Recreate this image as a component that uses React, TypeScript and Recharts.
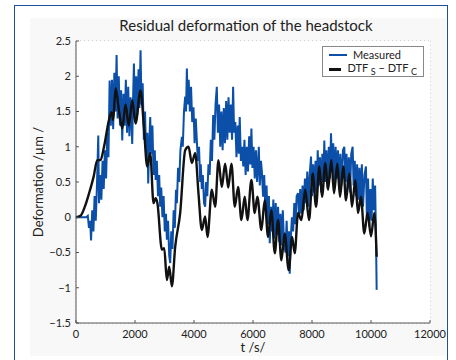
import { LineChart, Line, XAxis, YAxis, CartesianGrid } from "recharts";

// measured deformation [t (s), value (µm)]
const measured: [number, number][] = [
  [0, 0], [350, 0], [400, 0.02], [440, -0.15], [480, -0.05], [510, -0.33], [550, 0.1], [590, -0.2],
  [630, 0.3], [670, -0.05], [710, 0.45], [755, 1.16], [780, 0.2], [820, 0.6], [860, 0.25], [900, 0.8],
  [940, 0.4], [980, 0.95], [1020, 0.55], [1060, 1.2], [1100, 0.85], [1140, 1.94], [1180, 1.3], [1220, 1.95],
  [1260, 1.25], [1300, 2.05], [1340, 1.5], [1376, 2.3], [1410, 1.4], [1450, 2.0], [1490, 1.3], [1530, 1.8],
  [1568, 1.09], [1610, 1.75], [1650, 1.3], [1690, 1.95], [1730, 1.2], [1770, 1.85], [1810, 1.15], [1850, 1.7],
  [1906, 1.04], [1930, 1.6], [1963, 2.18], [2000, 1.4], [2040, 2.0], [2080, 1.45], [2120, 2.1], [2150, 1.55],
  [2188, 2.37], [2220, 1.6], [2260, 1.9], [2300, 1.1], [2340, 1.5], [2380, 0.8], [2420, 1.2], [2448, 0.48],
  [2480, 1.0], [2516, 1.42], [2550, 0.9], [2590, 1.3], [2630, 0.6], [2670, 0.95], [2700, 0.53], [2740, 0.8],
  [2780, 0.3], [2820, 0.6], [2854, 0.15], [2890, 0.42], [2930, 0.0], [2970, 0.3], [3010, -0.2], [3050, 0.05],
  [3081, -0.32], [3120, -0.05], [3160, -0.55], [3193, -0.65], [3230, -0.2], [3270, -0.45], [3310, 0.1], [3350, -0.15],
  [3390, 0.39], [3420, 0.2], [3460, 0.7], [3500, 0.5], [3540, 0.95], [3589, 1.14], [3620, 1.0], [3660, 1.5],
  [3701, 1.71], [3730, 1.5], [3758, 2.11], [3790, 1.6], [3820, 1.95], [3860, 1.5], [3900, 1.85], [3940, 1.35],
  [3983, 1.56], [4020, 1.05], [4060, 1.4], [4096, 1.09], [4130, 0.8], [4170, 1.0], [4210, 0.5], [4230, 0.75],
  [4265, 0.4], [4300, 0.6], [4340, 0.2], [4378, 0.15], [4410, 0.5], [4450, 0.3], [4490, 0.75], [4530, 0.6],
  [4570, 1.1], [4610, 0.8], [4650, 1.45], [4690, 1.1], [4730, 1.6], [4773, 1.85], [4810, 1.2], [4850, 1.6],
  [4890, 1.0], [4930, 1.5], [4970, 0.95], [5010, 1.55], [5050, 1.05], [5090, 1.65], [5130, 1.1], [5170, 1.7],
  [5210, 1.2], [5250, 1.6], [5290, 1.1], [5326, 1.85], [5360, 1.2], [5400, 1.35], [5440, 0.85], [5480, 1.3],
  [5520, 0.9], [5550, 1.42], [5590, 0.8], [5630, 1.0], [5670, 0.72], [5710, 1.1], [5750, 0.6], [5790, 1.0],
  [5830, 0.65], [5870, 1.15], [5910, 0.75], [5946, 1.26], [5980, 0.7], [6020, 1.0], [6060, 0.55], [6100, 0.95],
  [6140, 0.5], [6197, 1.0], [6230, 0.45], [6270, 0.8], [6300, 0.65], [6342, 0.29], [6380, 0.6], [6420, 0.1],
  [6460, 0.45], [6500, -0.1], [6540, 0.3], [6568, -0.37], [6610, 0.15], [6650, -0.2], [6690, 0.25], [6730, -0.3],
  [6770, 0.2], [6810, -0.25], [6850, 0.15], [6890, -0.35], [6930, 0.05], [6970, -0.4], [7010, 0.1], [7050, -0.35],
  [7100, -0.5], [7140, -0.05], [7180, -0.55], [7220, -0.2], [7245, -0.8], [7280, -0.3], [7320, 0.0], [7360, -0.2],
  [7400, 0.2], [7440, -0.1], [7480, 0.3], [7527, 0.34], [7560, 0.0], [7600, 0.4], [7640, 0.05], [7680, 0.45],
  [7720, 0.1], [7760, 0.55], [7800, 0.2], [7840, 0.65], [7880, 0.15], [7920, 0.6], [7967, 0.86], [8000, 0.3],
  [8040, 0.75], [8080, 0.35], [8120, 0.8], [8160, 0.3], [8194, 0.95], [8230, 0.45], [8270, 0.85], [8310, 0.35],
  [8350, 0.9], [8380, 0.5], [8418, 1.09], [8450, 0.5], [8490, 0.95], [8530, 0.4], [8570, 1.0], [8610, 0.55],
  [8644, 1.19], [8680, 0.7], [8720, 1.05], [8760, 0.45], [8800, 1.0], [8840, 0.55], [8880, 0.95], [8920, 0.4],
  [8960, 0.9], [9000, 0.45], [9050, 0.95], [9095, 1.0], [9130, 0.5], [9170, 0.9], [9210, 0.4], [9250, 0.85],
  [9290, 0.35], [9330, 0.9], [9378, 1.0], [9410, 0.45], [9450, 0.8], [9490, 0.3], [9530, 0.75], [9570, 0.25],
  [9610, 0.7], [9650, 0.2], [9690, 0.75], [9730, 0.15], [9780, 0.6], [9829, 0.72], [9860, 0.0], [9900, 0.55],
  [9940, -0.13], [9980, 0.4], [10020, -0.05], [10060, 0.55], [10100, 0.1], [10140, 0.45], [10170, -0.3], [10192, -1.03],
];

// DTF_S - DTF_C model [t (s), value (µm)]
const dtf: [number, number][] = [
  [0, 0], [150, 0.02], [300, 0.15], [450, 0.35], [600, 0.58], [720, 0.81], [830, 0.81], [950, 1.0],
  [1117, 1.38], [1206, 1.49], [1260, 1.38], [1342, 1.83], [1455, 1.52], [1568, 1.26], [1680, 1.6], [1790, 1.3],
  [1906, 1.66], [2019, 1.33], [2188, 1.8], [2302, 1.28], [2414, 0.72], [2516, 0.91], [2628, 0.2], [2700, 0.27],
  [2760, 0.2], [2911, -0.46], [2990, -0.44], [3081, -0.89], [3160, -0.7], [3250, -0.98], [3362, -0.42], [3531, 0.06],
  [3701, 0.95], [3814, 1.0], [3927, 0.77], [4040, 0.91], [4152, 0.34], [4265, -0.18], [4378, 0.01], [4457, -0.28],
  [4604, 0.39], [4717, 0.15], [4829, 0.81], [4943, 0.43], [5055, 0.76], [5160, 0.42], [5269, 0.76], [5383, 0.15],
  [5495, 0.43], [5607, -0.04], [5720, 0.29], [5810, -0.04], [5946, 0.53], [6058, 0.06], [6148, 0.29], [6284, -0.18],
  [6397, 0.24], [6510, -0.28], [6623, 0.1], [6738, -0.51], [6850, -0.04], [6962, -0.61], [7075, -0.23], [7210, -0.75],
  [7324, -0.28], [7414, -0.51], [7527, 0.06], [7640, -0.04], [7770, 0.39], [7900, -0.04], [8024, 0.62], [8137, 0.15],
  [8250, 0.72], [8340, 0.29], [8452, 0.77], [8543, 0.39], [8656, 0.81], [8746, 0.34], [8859, 0.76], [8949, 0.29],
  [9062, 0.72], [9152, 0.24], [9265, 0.62], [9355, 0.15], [9468, 0.53], [9559, 0.06], [9660, 0.29], [9772, -0.23],
  [9886, 0.06], [10000, -0.27], [10112, 0.06], [10192, -0.56],
];

const xTicks = [0, 2000, 4000, 6000, 8000, 10000, 12000];
const yTicks = [-1.5, -1, -0.5, 0, 0.5, 1, 1.5, 2, 2.5];

const measuredData = measured.map(([t, v]) => ({ t, v }));
const dtfData = dtf.map(([t, v]) => ({ t, v }));

const FONT = "Lato, 'Open Sans', sans-serif";
const BLUE = "#0b4fa8";

function fmtY(v: number) {
  return v < 0 ? `\u2212${Math.abs(v)}` : `${v}`;
}

function LegendBox() {
  return (
    <div
      style={{
        position: "absolute",
        left: 322,
        top: 46,
        width: 102,
        height: 31,
        border: "1px solid #888",
        background: "#fff",
        padding: "1px 6px 0 6px",
        fontFamily: FONT,
        fontSize: 11,
        color: "#222",
        lineHeight: "13px",
        boxSizing: "border-box",
        whiteSpace: "nowrap",
      }}
    >
      <div style={{ display: "flex", alignItems: "center", gap: 6 }}>
        <span style={{ width: 18, height: 2, background: BLUE, display: "inline-block" }} />
        Measured
      </div>
      <div style={{ display: "flex", alignItems: "center", gap: 6 }}>
        <span style={{ width: 18, height: 3, background: "#111", display: "inline-block" }} />
        <span>
          DTF <sub style={{ fontSize: 9, verticalAlign: -3 }}>S</sub> − DTF{" "}
          <sub style={{ fontSize: 9, verticalAlign: -3 }}>C</sub>
        </span>
      </div>
    </div>
  );
}

export default function App() {
  return (
    <div style={{ position: "absolute", left: 0, top: 0, width: 456, height: 360, background: "#fff", overflow: "hidden" }}>
      {/* outer frame */}
      <div
        style={{
          position: "absolute",
          left: 14,
          top: 5,
          width: 434,
          height: 370,
          border: "1.5px solid #1c4f9c",
          boxSizing: "border-box",
        }}
      />
      <div style={{ position: "absolute", left: 30, top: 18, width: 416, height: 338, background: "#f8f8f8" }} />
      <div
        style={{
          position: "absolute",
          left: 68,
          top: 16,
          width: 356,
          textAlign: "center",
          fontFamily: FONT,
          fontSize: 15,
          color: "#222",
        }}
      >
        Residual deformation of the headstock
      </div>
      <div style={{ position: "absolute", left: 0, top: 0 }}>
        <LineChart width={456} height={360} margin={{ top: 41, right: 26, bottom: 7, left: 16 }}>
          <rect x={76} y={41} width={354} height={282} fill="#fff" />
          <CartesianGrid
            stroke="#aaa"
            strokeDasharray="1 3"
            horizontalValues={yTicks}
            verticalValues={xTicks}
          />
          <XAxis
            type="number"
            dataKey="t"
            domain={[0, 12000]}
            ticks={xTicks}
            height={30}
            tick={{ fill: "#222", fontSize: 11, fontFamily: FONT }}
            tickLine={{ stroke: "#555" }}
            tickSize={-3}
            tickMargin={10}
            axisLine={{ stroke: "#555" }}
            label={{ value: "t /s/", position: "insideBottom", offset: 1, fill: "#222", fontSize: 13, fontFamily: FONT }}
            allowDuplicatedCategory={false}
          />
          <YAxis
            type="number"
            dataKey="v"
            domain={[-1.5, 2.5]}
            ticks={yTicks}
            width={60}
            tick={{ fill: "#222", fontSize: 11, fontFamily: FONT }}
            tickFormatter={fmtY}
            tickLine={{ stroke: "#555" }}
            tickSize={-3}
            tickMargin={8}
            axisLine={{ stroke: "#555" }}
            label={{
              value: "Deformation /µm /",
              angle: -90,
              position: "insideLeft",
              offset: 22,
              fill: "#222",
              fontSize: 13,
              fontFamily: FONT,
              style: { textAnchor: "middle" },
            }}
          />
          <Line
            data={measuredData}
            dataKey="v"
            name="Measured"
            stroke={BLUE}
            strokeWidth={2}
            dot={false}
            type="linear"
            isAnimationActive={false}
          />
          <Line
            data={dtfData}
            dataKey="v"
            name="DTF"
            stroke="#111"
            strokeWidth={2.4}
            dot={false}
            type="monotone"
            isAnimationActive={false}
          />
        </LineChart>
      </div>
      <LegendBox />
    </div>
  );
}
